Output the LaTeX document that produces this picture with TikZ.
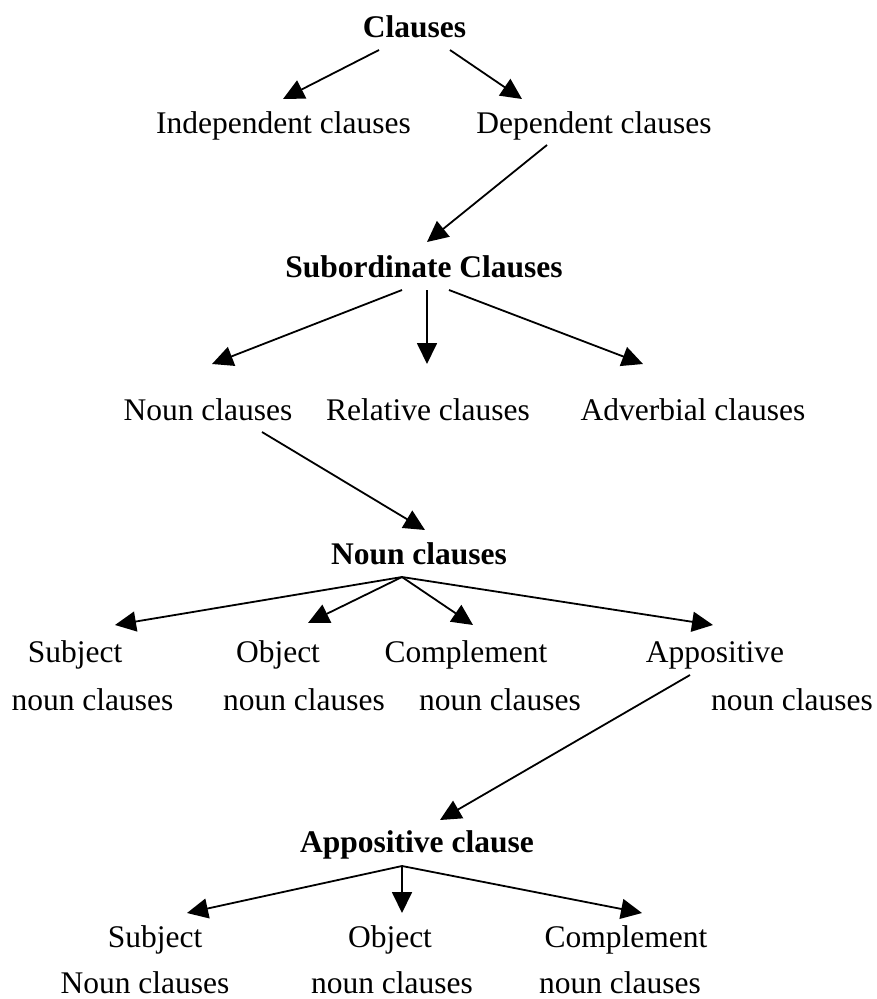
\documentclass[tikz,border=0pt]{standalone}
\usepackage{fontspec}
\setmainfont{Liberation Serif}
\usetikzlibrary{arrows.meta}
\tikzset{
  lbl/.style={anchor=base, inner sep=0pt, font=\fontsize{31.5}{36}\selectfont},
  hdr/.style={lbl, font=\fontsize{31.5}{36}\selectfont\bfseries},
  conn/.style={line width=1.8pt, -{Triangle[length=21pt,width=20pt]}}
}
\begin{document}
\begin{tikzpicture}[x=1pt,y=-1pt]
\useasboundingbox (0,0) rectangle (877,999);
% texts
\node[hdr] (clauses) at (414.5,37) {Clauses};
\node[lbl] (indep) at (283.5,133) {Independent clauses};
\node[lbl] (dep) at (594,133) {Dependent clauses};
\node[hdr] (sub) at (424,277) {Subordinate Clauses};
\node[lbl] (noun) at (208,420) {Noun clauses};
\node[lbl] (rel) at (428,420) {Relative clauses};
\node[lbl] (adv) at (693,420) {Adverbial clauses};
\node[hdr] (nounb) at (419,564) {Noun clauses};
\node[lbl] (subj1) at (75,662) {Subject};
\node[lbl] (subj2) at (92.5,710) {noun clauses};
\node[lbl] (obj1) at (278,662) {Object};
\node[lbl] (obj2) at (304,710) {noun clauses};
\node[lbl] (comp1) at (466,662) {Complement};
\node[lbl] (comp2) at (500,710) {noun clauses};
\node[lbl] (app1) at (715,662) {Appositive};
\node[lbl] (app2) at (792,710) {noun clauses};
\node[hdr] (appb) at (417,852) {Appositive clause};
\node[lbl] (bsubj1) at (155,947) {Subject};
\node[lbl] (bsubj2) at (145,993) {Noun clauses};
\node[lbl] (bobj1) at (390,947) {Object};
\node[lbl] (bobj2) at (392,993) {noun clauses};
\node[lbl] (bcomp1) at (626,947) {Complement};
\node[lbl] (bcomp2) at (620,993) {noun clauses};
% connector ends
\coordinate (c1s) at (379,50);
\coordinate (c1t) at (283,99);
\coordinate (c2s) at (450,50);
\coordinate (c2t) at (522,99);
\coordinate (d1s) at (547,145);
\coordinate (d1t) at (427,242);
\coordinate (s1s) at (402,290);
\coordinate (s1t) at (212,364);
\coordinate (s2s) at (427,290);
\coordinate (s2t) at (427,364);
\coordinate (s3s) at (449,290);
\coordinate (s3t) at (643,364);
\coordinate (n1s) at (262,432);
\coordinate (n1t) at (425,530);
\coordinate (apex1) at (402,577);
\coordinate (a1t) at (115,625);
\coordinate (a2t) at (308,623);
\coordinate (a3t) at (473,625);
\coordinate (a4t) at (713,625);
\coordinate (p1s) at (690,675);
\coordinate (p1t) at (440,820);
\coordinate (apex2) at (402,866);
\coordinate (b1t) at (187,913);
\coordinate (b2t) at (402,913);
\coordinate (b3t) at (642,913);
% connectors
\draw[conn] (c1s) -- (c1t);
\draw[conn] (c2s) -- (c2t);
\draw[conn] (d1s) -- (d1t);
\draw[conn] (s1s) -- (s1t);
\draw[conn] (s2s) -- (s2t);
\draw[conn] (s3s) -- (s3t);
\draw[conn] (n1s) -- (n1t);
\draw[conn] (apex1) -- (a1t);
\draw[conn] (apex1) -- (a2t);
\draw[conn] (apex1) -- (a3t);
\draw[conn] (apex1) -- (a4t);
\draw[conn] (p1s) -- (p1t);
\draw[conn] (apex2) -- (b1t);
\draw[conn] (apex2) -- (b2t);
\draw[conn] (apex2) -- (b3t);
\end{tikzpicture}
\end{document}
